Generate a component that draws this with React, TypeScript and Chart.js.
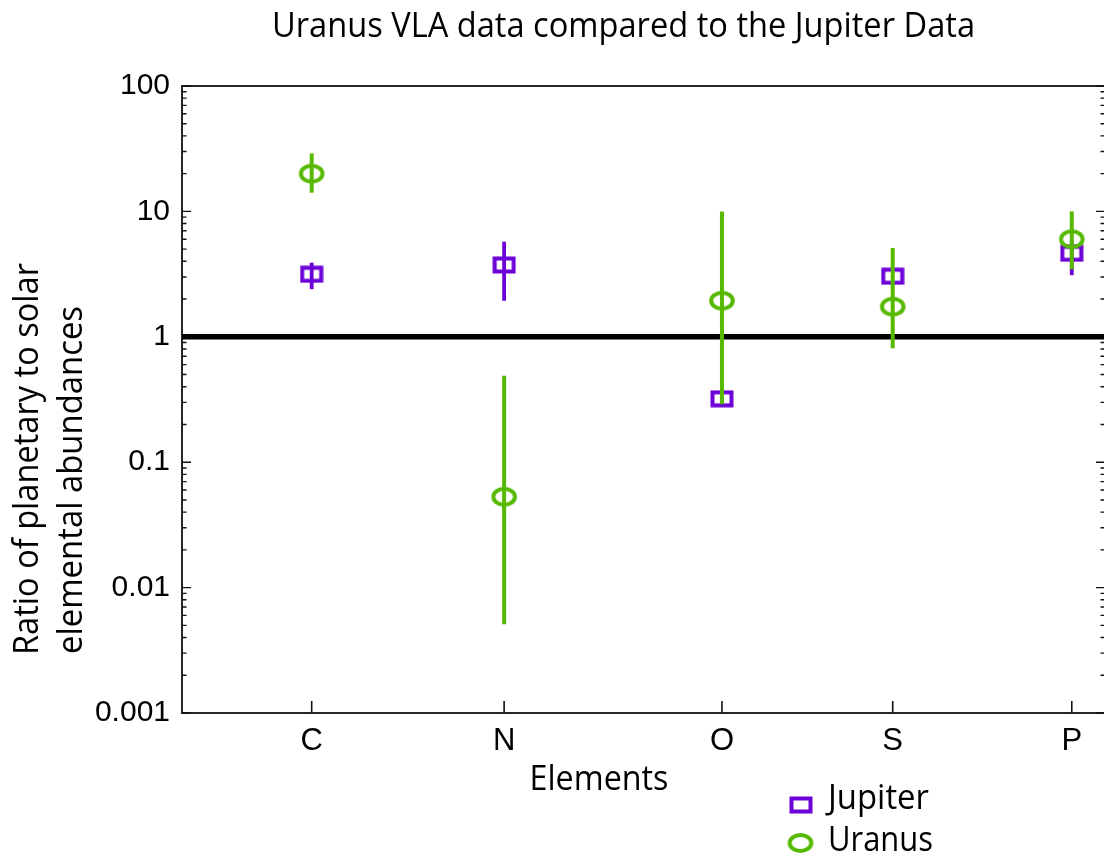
import React, { useEffect, useRef } from "react";
import { Chart, registerables } from "chart.js";

Chart.register(...registerables);

// Elements on the x axis and where each one sits on the linear position scale
const elements = ["C", "N", "O", "S", "P"];
const elementPos = [14.05, 34.9, 58.5, 77.0, 96.4];

// Jupiter: ratio of planetary to solar abundance, with error range (null = no bar)
const jupiterValues = [3.15, 3.74, 0.32, 3.04, 4.64];
const jupiterLow: (number | null)[] = [2.4, 1.94, null, null, 3.1];
const jupiterHigh: (number | null)[] = [3.9, 5.73, null, null, 5.8];

// Uranus VLA: ratio of planetary to solar abundance, with error range
const uranusValues = [20, 0.053, 1.94, 1.74, 6.0];
const uranusLow: (number | null)[] = [14.1, 0.0051, 0.29, 0.81, 3.45];
const uranusHigh: (number | null)[] = [29, 0.49, 10, 5.1, 10];

// Logarithmic y axis ticks
const yTicks = [0.001, 0.01, 0.1, 1, 10, 100];
const yTickLabels = ["0.001", "0.01", "0.1", "1", "10", "100"];

// Solar reference level
const referenceLevel = 1;

const PURPLE = "#6c00d9";
const GREEN = "#56b900";
const TEXT_FONT = '"Open Sans", "Noto Sans", sans-serif';
const TICK_FONT = '"Liberation Sans", Arial, sans-serif';

function makeSquareMarker(): HTMLCanvasElement {
  const c = document.createElement("canvas");
  c.width = 24;
  c.height = 18;
  const g = c.getContext("2d")!;
  g.strokeStyle = PURPLE;
  g.lineWidth = 4;
  g.strokeRect(2.5, 2.5, 19, 13);
  return c;
}

function makeEllipseMarker(): HTMLCanvasElement {
  const c = document.createElement("canvas");
  c.width = 28;
  c.height = 22;
  const g = c.getContext("2d")!;
  g.strokeStyle = GREEN;
  g.lineWidth = 4;
  g.beginPath();
  g.ellipse(14, 11, 10.8, 7.9, 0, 0, Math.PI * 2);
  g.stroke();
  return c;
}

// Draws text stretched/condensed horizontally to a given width
function fitText(
  ctx: CanvasRenderingContext2D,
  text: string,
  width: number,
  font: string,
  align: CanvasTextAlign
) {
  ctx.font = font;
  const w = ctx.measureText(text).width;
  ctx.save();
  ctx.scale(width / w, 1);
  ctx.textAlign = align;
  ctx.textBaseline = "alphabetic";
  ctx.fillText(text, 0, 0);
  ctx.restore();
}

export default function App() {
  const canvasRef = useRef<HTMLCanvasElement | null>(null);

  useEffect(() => {
    document.body.style.margin = "0";
    let chart: Chart | null = null;
    let cancelled = false;

    const squareMarker = makeSquareMarker();
    const ellipseMarker = makeEllipseMarker();

    const errorBars = [
      { low: jupiterLow, high: jupiterHigh, color: PURPLE, width: 3.8 },
      { low: uranusLow, high: uranusHigh, color: GREEN, width: 4 },
    ];

    const decorations = {
      id: "decorations",
      beforeDatasetsDraw(c: any) {
        const { ctx, chartArea: a, scales } = c;
        const x = scales.x;
        const y = scales.y;
        ctx.save();
        ctx.strokeStyle = "#111";
        ctx.lineCap = "butt";

        // Frame
        ctx.lineWidth = 1.8;
        ctx.strokeRect(a.left, a.top, a.right - a.left, a.bottom - a.top);

        // Inward log ticks on left and right axes
        ctx.lineWidth = 1.4;
        for (let e = -3; e <= 2; e++) {
          for (let m = 1; m <= 9; m++) {
            const v = m * Math.pow(10, e);
            if (v > 100.0001 || v < 0.00099) continue;
            const py = y.getPixelForValue(v);
            const len = m === 1 ? 9 : 4.5;
            ctx.beginPath();
            ctx.moveTo(a.left, py);
            ctx.lineTo(a.left + len, py);
            ctx.moveTo(a.right, py);
            ctx.lineTo(a.right - len, py);
            ctx.stroke();
          }
        }

        // Inward ticks at each element
        ctx.lineWidth = 1.6;
        elementPos.forEach((p) => {
          const px = x.getPixelForValue(p);
          ctx.beginPath();
          ctx.moveTo(px, a.bottom);
          ctx.lineTo(px, a.bottom - 12);
          ctx.stroke();
        });

        // Solar reference line
        const ry = y.getPixelForValue(referenceLevel);
        ctx.strokeStyle = "#000";
        ctx.lineWidth = 5.5;
        ctx.beginPath();
        ctx.moveTo(a.left, ry);
        ctx.lineTo(a.right, ry);
        ctx.stroke();
        ctx.restore();
      },
      afterDatasetDraw(c: any, args: any) {
        const bars = errorBars[args.index];
        if (!bars) return;
        const { ctx, scales } = c;
        ctx.save();
        ctx.strokeStyle = bars.color;
        ctx.lineWidth = bars.width;
        ctx.lineCap = "butt";
        elementPos.forEach((p, i) => {
          const lo = bars.low[i];
          const hi = bars.high[i];
          if (lo == null || hi == null) return;
          const px = scales.x.getPixelForValue(p);
          ctx.beginPath();
          ctx.moveTo(px, scales.y.getPixelForValue(lo));
          ctx.lineTo(px, scales.y.getPixelForValue(hi));
          ctx.stroke();
        });
        ctx.restore();
      },
      afterDraw(c: any) {
        const { ctx } = c;
        ctx.save();
        ctx.fillStyle = "#000";

        // Title
        ctx.save();
        ctx.translate(623.5, 37);
        fitText(ctx, "Uranus VLA data compared to the Jupiter Data", 703, `34px ${TEXT_FONT}`, "center");
        ctx.restore();

        // Y axis title, two lines
        ctx.save();
        ctx.translate(38, 655);
        ctx.rotate(-Math.PI / 2);
        fitText(ctx, "Ratio of planetary to solar", 392, `34px ${TEXT_FONT}`, "left");
        ctx.restore();
        ctx.save();
        ctx.translate(82, 654);
        ctx.rotate(-Math.PI / 2);
        fitText(ctx, "elemental abundances", 348, `34px ${TEXT_FONT}`, "left");
        ctx.restore();

        // X axis title
        ctx.save();
        ctx.translate(599, 790);
        fitText(ctx, "Elements", 139, `34px ${TEXT_FONT}`, "center");
        ctx.restore();

        // Legend
        ctx.drawImage(squareMarker, 801 - 12, 805 - 9);
        ctx.drawImage(ellipseMarker, 800.5 - 14, 843 - 11);
        ctx.save();
        ctx.translate(828, 809);
        fitText(ctx, "Jupiter", 101, `34px ${TEXT_FONT}`, "left");
        ctx.restore();
        ctx.save();
        ctx.translate(828, 851);
        fitText(ctx, "Uranus", 105, `34px ${TEXT_FONT}`, "left");
        ctx.restore();

        ctx.restore();
      },
    };

    const build = () => {
      if (cancelled || !canvasRef.current) return;
      chart = new Chart(canvasRef.current, {
        type: "scatter",
        data: {
          datasets: [
            {
              label: "Jupiter",
              data: elementPos.map((p, i) => ({ x: p, y: jupiterValues[i] })),
              pointStyle: squareMarker as any,
              order: 2,
              showLine: false,
            },
            {
              label: "Uranus",
              data: elementPos.map((p, i) => ({ x: p, y: uranusValues[i] })),
              pointStyle: ellipseMarker as any,
              order: 1,
              showLine: false,
            },
          ],
        },
        options: {
          responsive: false,
          animation: false,
          devicePixelRatio: 1,
          layout: { padding: { top: 86, right: 4, left: 0, bottom: 0 } },
          plugins: {
            legend: { display: false },
            title: { display: false },
            tooltip: { enabled: false },
          },
          scales: {
            x: {
              type: "linear",
              min: 0,
              max: 100,
              grid: { display: false, drawTicks: false },
              border: { display: false },
              afterBuildTicks: (scale: any) => {
                scale.ticks = elementPos.map((v) => ({ value: v }));
              },
              afterFit: (scale: any) => {
                scale.height = 146;
              },
              ticks: {
                autoSkip: false,
                maxRotation: 0,
                padding: 10,
                color: "#000",
                font: { family: TICK_FONT, size: 31 },
                callback: (_v: any, i: number) => elements[i],
              },
            },
            y: {
              type: "logarithmic",
              min: 0.001,
              max: 100,
              grid: { display: false, drawTicks: false },
              border: { display: false },
              afterBuildTicks: (scale: any) => {
                scale.ticks = yTicks.map((v) => ({ value: v }));
              },
              afterFit: (scale: any) => {
                scale.width = 182;
              },
              ticks: {
                autoSkip: false,
                padding: 12,
                color: "#000",
                font: { family: TICK_FONT, size: 30 },
                callback: (_v: any, i: number) => yTickLabels[i],
              },
            },
          },
        },
        plugins: [decorations],
      });
    };

    const fonts = (document as any).fonts;
    if (fonts && fonts.load) {
      Promise.all([
        fonts.load(`34px "Open Sans"`),
        fonts.load(`30px "Liberation Sans"`),
      ])
        .catch(() => null)
        .then(build);
    } else {
      build();
    }

    return () => {
      cancelled = true;
      if (chart) chart.destroy();
    };
  }, []);

  return (
    <div style={{ width: 1104, height: 859, overflow: "hidden", background: "#fff" }}>
      <canvas ref={canvasRef} width={1110} height={859} style={{ display: "block" }} />
    </div>
  );
}
